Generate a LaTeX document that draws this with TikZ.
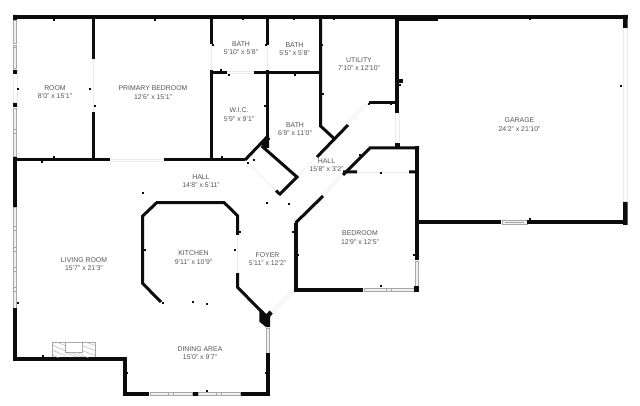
\documentclass[tikz,border=0pt]{standalone}
\usepackage{fontspec}
\setmainfont{Liberation Sans}
\definecolor{wallc}{HTML}{0C0C0C}
\definecolor{labelc}{HTML}{555555}
\definecolor{winc}{HTML}{A8A8A8}
\definecolor{winf}{HTML}{F0F0F0}
\definecolor{doorc}{HTML}{EBEBEB}
\tikzset{
 wall/.style={draw=wallc,line width=3pt,line cap=butt,line join=miter},
 thick wall/.style={draw=wallc,line width=4pt,line cap=butt,line join=miter},
 pane/.style={draw=winc,fill=winf,line width=.6pt},
 doorline/.style={draw=doorc,line width=.6pt},
 roomlabel/.style={text=labelc,font=\fontsize{6.9}{8.3}\selectfont,align=center,inner sep=0pt},
 solid block/.style={fill=wallc,draw=none},
 tick/.style={fill=wallc,draw=none}
}
\newcommand{\dotsat}[1]{\foreach \p in {#1}{\fill[tick] (\p) ++(-.6,-.6) rectangle ++(1.2,1.2);}}
\begin{document}
\begin{tikzpicture}[x=1pt,y=-1pt]
\useasboundingbox (0,0) rectangle (640,406);
\fill[white] (0,0) rectangle (640,406);
% door lines
\draw[doorline] (17,75)--(17,103) (13,75)--(13,103);
\draw[doorline] (93,59)--(93,112) (110,159)--(164,159) (110,161)--(164,161);
\draw[doorline] (211,44)--(211,70) (267.5,45)--(267.5,70) (227,71.5)--(254,71.5) (227,73.5)--(254,73.5);
\draw[doorline] (395,113)--(395,146) (399,113)--(399,146);
\draw[doorline] (368,104)--(348,125) (366,102.5)--(346,123.5);
\draw[doorline] (317,157)--(296,177) (343,175)--(323,197) (341.5,173.5)--(321.5,195.5);
\draw[doorline] (248,162)--(277,192) (272,314)--(295,291) (270.5,312.5)--(293.5,289.5);
\draw[doorline] (357,172)--(409,172);
\draw[doorline] (237.7,235)--(237.7,273);
\draw[doorline] (623,28)--(623,202) (627,28)--(627,202);
% windows
\foreach \a/\b in {20/43,45/47,47/68,108/129,129/133,133/156,207/226,226/230,230/247,247/251,251/267,267/271,271/287,287/291,291/308}
  \draw[pane] (13.3,\a) rectangle (16.7,\b);
\foreach \a/\b in {150/168,168/173,173/192,198/216,216/221,221/240}
  \draw[pane] (\a,392.3) rectangle (\b,395.7);
\draw[pane] (266.3,328) rectangle (269.7,353);
\foreach \a/\b in {364/386,386/391,391/414}
  \draw[pane] (\a,288.4) rectangle (\b,291.6);
\draw[pane] (415.3,261) rectangle (418.7,286);
\draw[pane] (502,220.8) rectangle (527,224.6);
\draw[draw=winc,line width=.5pt] (505,222.7)--(524,222.7);
% outer top and left
\draw[thick wall] (13,17)--(438,17);
\fill[solid block] (395,15)rectangle(438,21);
\draw[thick wall] (438,17)--(627.5,17);
\fill[solid block] (623,15)rectangle(627.5,28) (623,202)rectangle(627.5,225);
\draw[thick wall] (417,222.5)--(501,222.5) (527,222.5)--(627,222.5);
\draw[thick wall] (15,157)--(15,207) (15,308)--(15,361);
\fill[solid block] (13,70)rectangle(17,74) (13,103)rectangle(17,107) (13,15)rectangle(17,20);
\draw[thick wall] (13,359)--(127,359);
\draw[thick wall] (125,357)--(125,396);
\draw[thick wall] (123,394)--(149,394) (241,394)--(270,394);
\draw[thick wall] (268,353)--(268,396);
\fill[solid block] (193,392)rectangle(197.5,396);
% fireplace
\draw[draw=winc,line width=.5pt] (52.5,357)--(52.5,342.5)--(95,342.5)--(95,357);
\draw[draw=winc,line width=.5pt] (65,343)--(65,352.5)--(82,352.5)--(82,343);
\begin{scope}
\clip (52.5,342.5) rectangle (65,357);
\foreach \y in {340,345,350,355}
 \draw[draw=winc,line width=.4pt] (52,\y)--(66,\y+6);
\end{scope}
\begin{scope}
\clip (82,342.5) rectangle (95,357);
\foreach \y in {340,345,350,355}
 \draw[draw=winc,line width=.4pt] (81,\y)--(96,\y+6);
\end{scope}
\begin{scope}
\clip (65,352.5) rectangle (82,357);
\foreach \x in {65,71,77}
 \draw[draw=winc,line width=.4pt] (\x,352.5)--(\x+12,357);
\end{scope}
% interior walls, north
\draw[wall] (15,160)--(110,160) (164,160)--(245,160);
\draw[wall] (93,17)--(93,59) (93,112)--(93,160);
\draw[wall] (211,17)--(211,44) (211,70)--(211,160);
\draw[wall] (267.5,17)--(267.5,45) (267.5,70)--(267.5,143);
\draw[wall] (211,72.5)--(227,72.5) (254,72.5)--(320.5,72.5);
\draw[wall] (320.5,17)--(320.5,126)--(333.5,138);
\draw[thick wall] (397,19)--(397,113);
\fill[solid block] (398,79)rectangle(403,83);
\draw[wall] (397,103)--(369,103);
\draw[wall] (348,125)--(317,157);
% closet
\draw[wall] (268,136)--(245,160);
\draw[wall] (261.7,146)--(297,177)--(279,195);
\draw[wall] (279.5,194)--(276,190.5);
\fill[solid block] (261,145)--(267,135)--(269.2,135)--(269.2,148)--(264.5,148)--cycle;
% bedroom
\draw[wall] (343,175)--(370,148)--(419,148);
\draw[thick wall] (417,146)--(417,260);
\fill[solid block] (395,143)rectangle(399.5,148);
\fill[solid block] (343,170.5)rectangle(357,173.5) (409,170.5)rectangle(416,173.5);
\draw[thick wall] (295.5,292)--(295.5,223);
\draw[wall] (295.5,223)--(323,196);
\draw[thick wall] (293.5,290)--(363,290);
\fill[solid block] (414,286)rectangle(419,292);
% kitchen
\draw[wall] (161,302)--(142.7,283.5)--(142.7,216)--(156.7,202.7)--(224.3,202.7)--(237.7,216)--(237.7,235);
\draw[wall] (237.7,273)--(237.7,287.5)--(263,313);
\fill[solid block] (259.3,308)--(259.3,321.7)--(266,327)--(270,327)--(270,317)--(272.7,313.5)--(269.5,310.5)--(266.5,314)--cycle;
% dots
\dotsat{{54,20},{155,20},{243,19},{294,19},{334,19},{530,19},{18,89},{90,89},{95,106},{222,157},{213,45},{266,45},{322,45},{212,106},{265,106},{221,70},{229,75},{295,75},{323,94},{400,85},{391,104},{369,104},{339,135},{269,139},{248,163},{243,159},{254,160},{42,162},{54,157},{360,155},{381,173},{296,230},{298,255},{414,255},{381,286},{279,193},{289,204},{267,203},{143,193},{222,202},{145,250},{235,250},{240,232},{293,232},{163,303},{193,302},{207,304},{18,303},{43,356},{127,373},{266,373},{207,391},{530,219},{621,86}}
% labels
\node[roomlabel] (room) at (55,92) {ROOM\\8'0" x 15'1"};
\node[roomlabel] (primary) at (153,92.5) {PRIMARY BEDROOM\\12'6" x 15'1"};
\node[roomlabel] (bath1) at (241,48) {BATH\\5'10" x 5'8"};
\node[roomlabel] (bath2) at (294.5,49) {BATH\\5'5" x 5'8"};
\node[roomlabel] (utility) at (359,64.5) {UTILITY\\7'10" x 12'10"};
\node[roomlabel] (wic) at (239,114.5) {W.I.C.\\5'9" x 9'1"};
\node[roomlabel] (bath3) at (295,129.5) {BATH\\6'9" x 11'0"};
\node[roomlabel] (garage) at (519.5,124.5) {GARAGE\\24'2" x 21'10"};
\node[roomlabel] (hall2) at (326.5,165.5) {HALL\\15'8" x 3'2"};
\node[roomlabel] (hall1) at (201,181.5) {HALL\\14'8" x 5'11"};
\node[roomlabel] (bedroom) at (360,237.5) {BEDROOM\\12'9" x 12'5"};
\node[roomlabel] (kitchen) at (193.5,257.5) {KITCHEN\\9'11" x 10'9"};
\node[roomlabel] (foyer) at (267.5,259) {FOYER\\5'11" x 12'2"};
\node[roomlabel] (living) at (84,264) {LIVING ROOM\\15'7" x 21'3"};
\node[roomlabel] (dining) at (200,353) {DINING AREA\\15'0" x 9'7"};
\end{tikzpicture}
\end{document}
